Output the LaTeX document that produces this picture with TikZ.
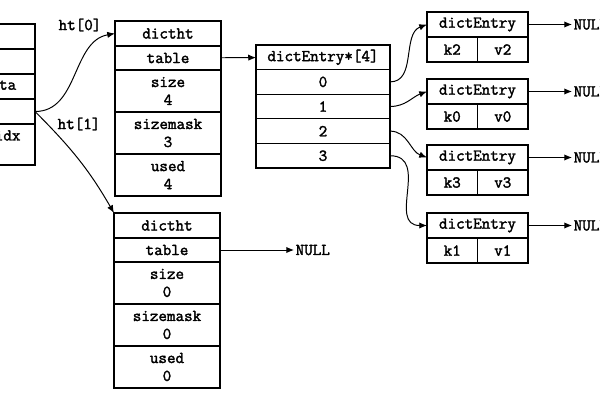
\documentclass[tikz,border=0pt]{standalone}
\usepackage{fontspec}
\setmonofont[AutoFakeBold=2]{Latin Modern Mono}
\usetikzlibrary{arrows.meta,positioning}

\begin{document}
\begin{tikzpicture}[x=0.025cm, y=-0.025cm, >={Latex[length=5.5pt,width=4.5pt]}]
% STYLES
\tikzset{%
    cell/.style={%
    draw,
    rectangle,
    line width=0.9pt,
    inner sep=0pt,
    outer sep=0pt,
    font=\ttfamily\bfseries\fontsize{11.8}{12.8}\selectfont,
    align=center,
    minimum width=2.65cm,
    minimum height=0.625cm}
    }
\tikzset{%
    tall/.style={%
    cell,
    minimum height=1.05cm}
    }
\tikzset{%
    slot/.style={%
    cell,
    minimum width=3.35cm,
    minimum height=0.615cm}
    }
\tikzset{%
    entry/.style={%
    cell,
    minimum width=2.525cm}
    }
\tikzset{%
    half/.style={%
    cell,
    minimum width=1.2625cm}
    }
\tikzset{%
    null/.style={%
    inner sep=1pt,
    font=\ttfamily\bfseries\fontsize{11.8}{12.8}\selectfont}
    }
\tikzset{%
    link/.style={%
    ->,
    line width=0.7pt}
    }
\useasboundingbox (0,0) rectangle (600,400);

% dict (cut off at the left)
\node [cell] at (-18,36.5) (dict) {};
\node [cell, below=0pt of dict] (type) {};
\node [cell, below=0pt of type] (privdata) {privdata};
\node [cell, below=0pt of privdata] (ht) {};
\node [tall, minimum height=1.025cm, below=0pt of ht] (rehashidx) {rehashidx\\\phantom{0}};

% ht[0]
\node [cell] at (168,33.5) (ht0) {dictht};
\node [cell, minimum height=0.6cm, below=0pt of ht0] (ht0-table) {table};
\node [tall, below=0pt of ht0-table] (ht0-size) {size\\4};
\node [tall, below=0pt of ht0-size] (ht0-sizemask) {sizemask\\3};
\node [tall, below=0pt of ht0-sizemask] (ht0-used) {used\\4};

% ht[1]
\node [cell] at (167,225.5) (ht1) {dictht};
\node [cell, minimum height=0.6cm, below=0pt of ht1] (ht1-table) {table};
\node [tall, below=0pt of ht1-table] (ht1-size) {size\\0};
\node [tall, below=0pt of ht1-size] (ht1-sizemask) {sizemask\\0};
\node [tall, below=0pt of ht1-sizemask] (ht1-used) {used\\0};
\node [null, right=1.85cm of ht1-table] (ht1-null) {NULL};

% table array
\node [slot] at (323,57.3) (array) {dictEntry*[4]};
\node [slot, below=0pt of array] (b0) {0};
\node [slot, below=0pt of b0] (b1) {1};
\node [slot, below=0pt of b1] (b2) {2};
\node [slot, below=0pt of b2] (b3) {3};

% entries
\node [entry] at (477.5,24.5) (e2) {dictEntry};
\node [half, anchor=north west] at (e2.south west) (e2-k) {k2};
\node [half, right=0pt of e2-k] (e2-v) {v2};
\node [null, right=1.1cm of e2] (e2-null) {NULL};

\node [entry] at (477.5,91.5) (e0) {dictEntry};
\node [half, anchor=north west] at (e0.south west) (e0-k) {k0};
\node [half, right=0pt of e0-k] (e0-v) {v0};
\node [null, right=1.1cm of e0] (e0-null) {NULL};

\node [entry] at (477.5,157.5) (e3) {dictEntry};
\node [half, anchor=north west] at (e3.south west) (e3-k) {k3};
\node [half, right=0pt of e3-k] (e3-v) {v3};
\node [null, right=1.1cm of e3] (e3-null) {NULL};

\node [entry] at (477.5,225.5) (e1) {dictEntry};
\node [half, anchor=north west] at (e1.south west) (e1-k) {k1};
\node [half, right=0pt of e1-k] (e1-v) {v1};
\node [null, right=1.1cm of e1] (e1-null) {NULL};

% labels
\node [null] at (80,25) (lbl0) {ht[0]};
\node [null] at (79,124) (lbl1) {ht[1]};

% Draw the links
\draw [link] (ht.east) to [out=0, in=190] (ht0.west);
\draw [link] (ht.east) to [out=-45, in=120] (ht1.north west);
\draw [link] (ht0-table) -- (array);
\draw [link] (ht1-table) -- (ht1-null);
\draw [link] (b0.east) to [out=0, in=200] (e2.west);
\draw [link] (b1.east) to [out=0, in=200] (e0.west);
\draw [link] (b2.east) to [out=0, in=160] (e3.west);
\draw [link] (b3.east) to [out=0, in=180, looseness=1.3] (e1.west);
\draw [link] (e2) -- (e2-null);
\draw [link] (e0) -- (e0-null);
\draw [link] (e3) -- (e3-null);
\draw [link] (e1) -- (e1-null);

\end{tikzpicture}
\end{document}
